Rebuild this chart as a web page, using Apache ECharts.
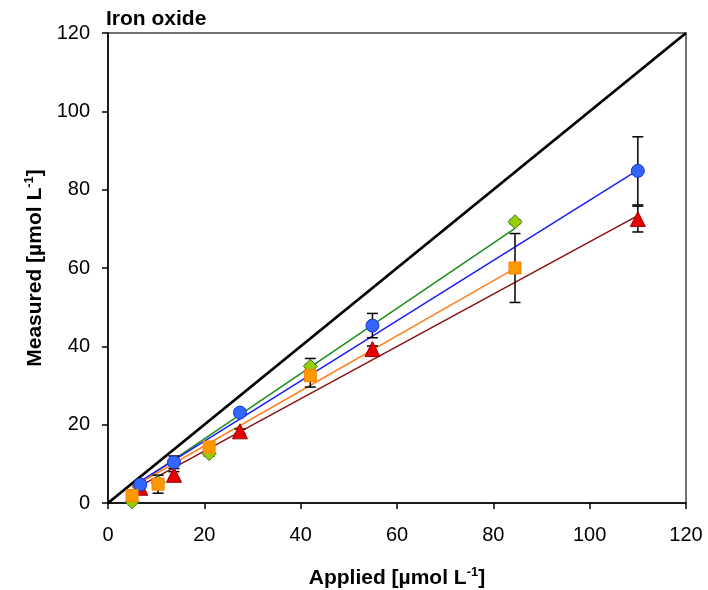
<!DOCTYPE html>
<html>
<head>
<meta charset="utf-8">
<script src="https://cdn.jsdelivr.net/npm/echarts@6/dist/echarts.min.js"></script>
<style>html,body{margin:0;padding:0;background:#fff}#c{width:708px;height:590px}</style>
</head>
<body>
<div id="c"></div>
<script>
// Applied concentrations
const xA = [5, 10.4, 21, 42, 84.5];      // orange / green series
const xB = [6.7, 13.7, 27.4, 54.9, 110];  // blue / red series

// Measured values and error (±)
const blueY = [4.7, 10.4, 23.1, 45.3, 84.8];
const blueErr = [0.8, 1.6, 0.8, 3.1, 8.7];
const redY = [3.9, 7.2, 18.3, 39.3, 72.5];
const redErr = [0.8, 0.8, 0.6, 0.8, 3.3];
const orangeY = [1.9, 4.8, 14.3, 32.5, 60.0];
const orangeErr = [0.5, 2.3, 0.8, 2.9, 8.8];
const greenY = [0.3, 5.2, 12.6, 34.9, 71.8];
const greenErr = [0.3, 0.6, 0.6, 2.0, 0.5];

// Regression lines [slope, intercept, xStart, xEnd]
const greenFit = [0.833, -0.3, 5, 84.5];
const blueFit = [0.769, 0.4, 5, 110];
const orangeFit = [0.703, 0.5, 5, 84.5];
const redFit = [0.668, -0.1, 5, 110];

const identity = [[0, 0], [120, 120]];
const axisTicks = [0, 20, 40, 60, 80, 100, 120];

function pts(xs, ys) { return xs.map((x, i) => [x, ys[i]]); }
function errData(xs, ys, es) { return xs.map((x, i) => [x, ys[i] - es[i], ys[i] + es[i]]); }
function fitLine(f) { return [[f[2], f[0] * f[2] + f[1]], [f[3], f[0] * f[3] + f[1]]]; }

function errSeries(data, z) {
  return {
    type: 'custom', z: z,
    data: data,
    renderItem: function (params, api) {
      const x = api.value(0), lo = api.value(1), hi = api.value(2);
      const pLo = api.coord([x, lo]), pHi = api.coord([x, hi]);
      const w = 5.5;
      const st = { stroke: '#000', lineWidth: 1.5 };
      return {
        type: 'group',
        children: [
          { type: 'line', shape: { x1: pLo[0], y1: pLo[1], x2: pHi[0], y2: pHi[1] }, style: st },
          { type: 'line', shape: { x1: pLo[0] - w, y1: pLo[1], x2: pLo[0] + w, y2: pLo[1] }, style: st },
          { type: 'line', shape: { x1: pHi[0] - w, y1: pHi[1], x2: pHi[0] + w, y2: pHi[1] }, style: st }
        ]
      };
    }
  };
}

function lineS(data, color, width, z) {
  return { type: 'line', data: data, symbol: 'none', z: z, silent: true,
    lineStyle: { color: color, width: width }, animation: false };
}
function scatterS(data, symbol, size, fill, border, z) {
  return { type: 'scatter', data: data, symbol: symbol, symbolSize: size, z: z,
    itemStyle: { color: fill, borderColor: border, borderWidth: 1, opacity: 1 } };
}

const font = 'Arial, "Liberation Sans", sans-serif';
const nameStyle = { fontFamily: font, fontSize: 21, fontWeight: 'bold', color: '#000',
  rich: { sup: { fontFamily: font, fontSize: 13, fontWeight: 'bold', verticalAlign: 'top', color: '#000', padding: [0, 0, 12, 0] } } };
const chart = echarts.init(document.getElementById('c'));
chart.setOption({
  animation: false,
  title: { text: 'Iron oxide', left: 101, top: 4,
    textStyle: { fontFamily: font, fontSize: 21, fontWeight: 'bold', color: '#000' } },
  grid: { left: 108, right: 22, top: 33, bottom: 87, outerBoundsMode: 'none', containLabel: false,
    show: true, borderColor: '#444', borderWidth: 1.5, backgroundColor: 'transparent' },
  xAxis: {
    type: 'value', min: 0, max: 120, interval: 20,
    name: 'Applied [µmol L{sup|-1}]', nameLocation: 'middle', nameGap: 63,
    nameTextStyle: nameStyle,
    axisLine: { show: true, lineStyle: { color: '#000', width: 1.5 } },
    axisTick: { show: true, inside: false, length: 6, lineStyle: { color: '#000', width: 1.5 } },
    axisLabel: { fontFamily: font, fontSize: 20, color: '#000', margin: 22 },
    splitLine: { show: false }
  },
  yAxis: {
    type: 'value', min: 0, max: 120, interval: 20,
    name: 'Measured [µmol L{sup|-1}]', nameLocation: 'middle', nameGap: 55,
    nameTextStyle: nameStyle,
    axisLine: { show: true, lineStyle: { color: '#000', width: 1.5 } },
    axisTick: { show: true, inside: false, length: 6, lineStyle: { color: '#000', width: 1.5 } },
    axisLabel: { fontFamily: font, fontSize: 20, color: '#000', margin: 18 },
    splitLine: { show: false }
  },
  series: [
    lineS(identity, '#000', 2.8, 2),
    lineS(fitLine(greenFit), '#1a8c1a', 1.5, 3),
    lineS(fitLine(blueFit), '#1a1aff', 1.5, 3),
    lineS(fitLine(orangeFit), '#ff7f1a', 1.5, 3),
    lineS(fitLine(redFit), '#8b1010', 1.5, 3),
    errSeries(errData(xB, redY, redErr), 4),
    errSeries(errData(xB, blueY, blueErr), 4),
    errSeries(errData(xA, greenY, greenErr), 4),
    errSeries(errData(xA, orangeY, orangeErr), 4),
    scatterS(pts(xB, redY), 'triangle', 15, '#e60000', '#a00000', 5),
    scatterS(pts(xB, blueY), 'circle', 13, '#3366ff', '#1a33cc', 6),
    scatterS(pts(xA, greenY), 'diamond', 14, '#99cc00', '#33801a', 5),
    scatterS(pts(xA, orangeY), 'rect', 12, '#ff9900', '#ff7f00', 6)
  ]
});
</script>
</body>
</html>
